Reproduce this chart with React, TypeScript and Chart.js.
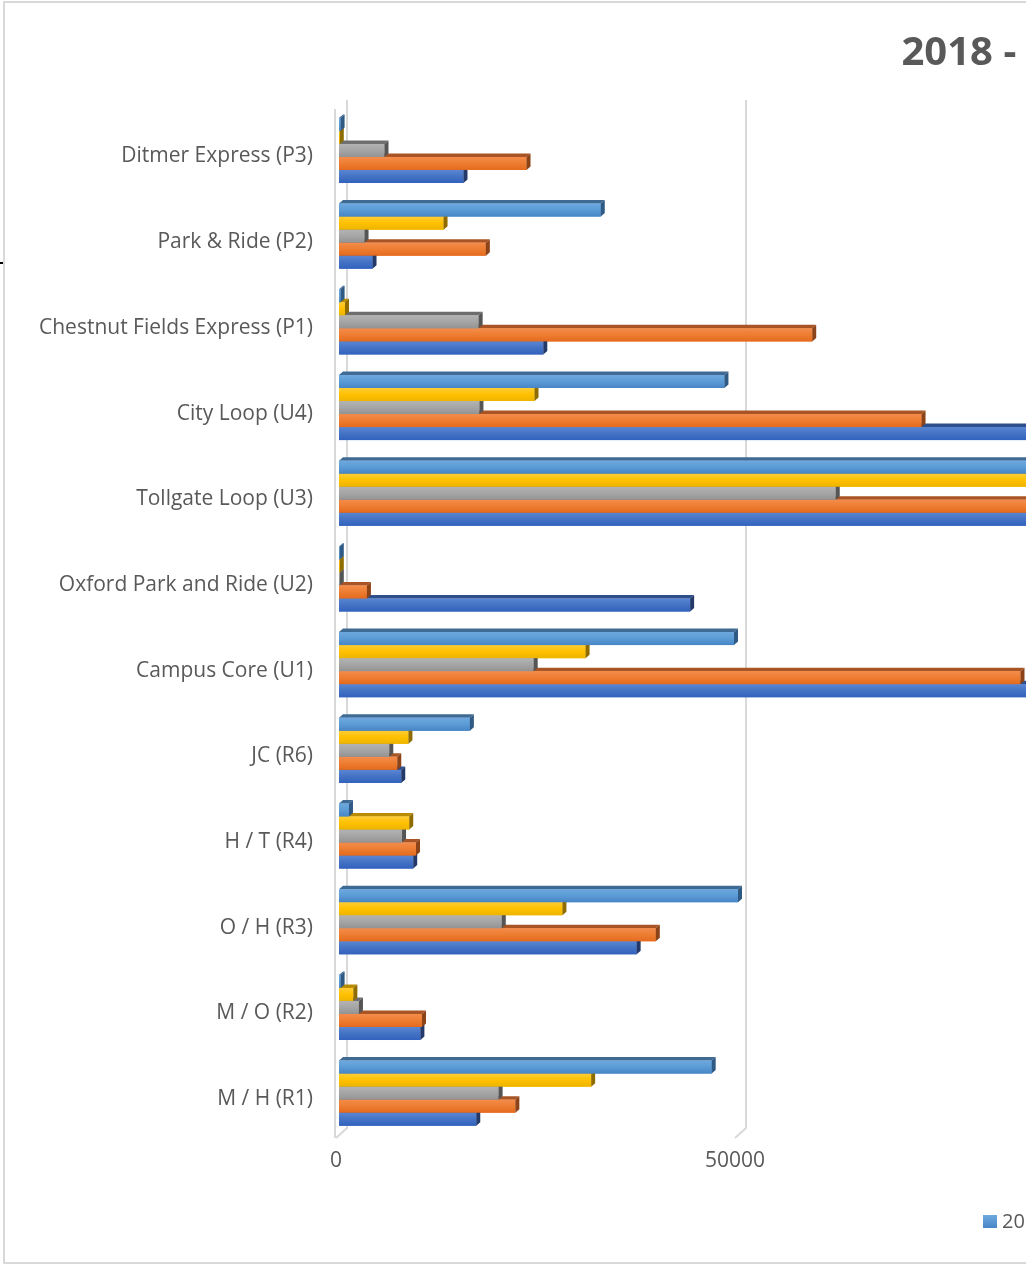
import React, { useEffect, useRef } from 'react';
import { Chart, registerables } from 'chart.js';

Chart.register(...registerables);

const categories = [
  'Ditmer Express (P3)',
  'Park & Ride (P2)',
  'Chestnut Fields Express (P1)',
  'City Loop (U4)',
  'Tollgate Loop (U3)',
  'Oxford Park and Ride (U2)',
  'Campus Core (U1)',
  'JC (R6)',
  'H / T (R4)',
  'O / H (R3)',
  'M / O (R2)',
  'M / H (R1)',
];

const seriesLabels = ['2018', '2019', '2020', '2021', '2022'];

// top bar of each group (light blue)
const seriesA = [200, 32800, 200, 48300, 118000, 100, 49500, 16400, 1250, 50000, 200, 46700];
// yellow
const seriesB = [100, 13100, 750, 24500, 112000, 100, 30900, 8700, 8800, 28000, 1800, 31600];
// gray
const seriesC = [5700, 3200, 17500, 17600, 62250, 100, 24400, 6300, 7900, 20400, 2500, 20000];
// orange
const seriesD = [23500, 18400, 59300, 73000, 135000, 3500, 85400, 7300, 9650, 39700, 10400, 22100];
// bottom bar of each group (dark blue)
const seriesE = [15600, 4200, 25600, 96000, 140000, 44000, 102000, 7800, 9300, 37300, 10200, 17200];

const xTicks = [0, 50000, 100000, 150000];

const titleText = '2018 - 2022 Ridership by Route';

const palettes = [
  { mid: '#5B9BD5', light: '#6EA9DF', dark: '#4785C6', topFace: '#3E6A94', cap: '#2F5A84' },
  { mid: '#FFC000', light: '#FFCD36', dark: '#EDB500', topFace: '#B88B00', cap: '#8F6C00' },
  { mid: '#A5A5A5', light: '#B3B3B3', dark: '#939393', topFace: '#6E6E6E', cap: '#555555' },
  { mid: '#ED7D31', light: '#F48C4C', dark: '#E46A1E', topFace: '#A85424', cap: '#8C4318' },
  { mid: '#4472C4', light: '#5A86D2', dark: '#3262BE', topFace: '#2F4F8C', cap: '#22396A' },
];

const DX = 4;
const DY = 3.5;

const wallPlugin = {
  id: 'wall3d',
  beforeDatasetsDraw(chart: any) {
    const { ctx, chartArea } = chart;
    const xs = chart.scales.x;
    ctx.save();
    ctx.strokeStyle = '#d9d9d9';
    ctx.lineWidth = 2;
    const backTop = chartArea.top - 7.6;
    const floorBack = chartArea.bottom - 8;
    const floorFront = chartArea.bottom + 2;
    xTicks.forEach((v) => {
      const px = xs.getPixelForValue(v);
      ctx.beginPath();
      ctx.moveTo(px + 8, backTop);
      ctx.lineTo(px + 8, floorBack);
      ctx.lineTo(px - 3, floorFront);
      ctx.stroke();
    });
    const p0 = xs.getPixelForValue(0);
    ctx.beginPath();
    ctx.moveTo(p0 - 4, chartArea.top + 1.4);
    ctx.lineTo(p0 - 4, floorFront);
    ctx.stroke();
    ctx.restore();
  },
};

const barPlugin = {
  id: 'bar3d',
  afterDatasetsDraw(chart: any) {
    const ctx = chart.ctx;
    const n = chart.data.datasets.length;
    ctx.save();
    for (let d = n - 1; d >= 0; d--) {
      const meta = chart.getDatasetMeta(d);
      const pal = palettes[d];
      meta.data.forEach((el: any) => {
        const { x, y, base, height } = el.getProps(['x', 'y', 'base', 'height'], true);
        const top = y - height / 2;
        const bot = y + height / 2;
        const left = Math.min(base, x);
        const right = Math.max(base, x);
        ctx.fillStyle = pal.topFace;
        ctx.beginPath();
        ctx.moveTo(left, top);
        ctx.lineTo(right, top);
        ctx.lineTo(right + DX, top - DY);
        ctx.lineTo(left + DX, top - DY);
        ctx.closePath();
        ctx.fill();
        const g = ctx.createLinearGradient(0, top, 0, bot);
        g.addColorStop(0, pal.light);
        g.addColorStop(0.5, pal.mid);
        g.addColorStop(1, pal.dark);
        ctx.fillStyle = g;
        ctx.fillRect(left, top, right - left, height);
        ctx.fillStyle = pal.cap;
        ctx.beginPath();
        ctx.moveTo(right, top);
        ctx.lineTo(right + DX, top - DY);
        ctx.lineTo(right + DX, bot - DY);
        ctx.lineTo(right, bot);
        ctx.closePath();
        ctx.fill();
      });
    }
    ctx.restore();
  },
};

const titleLegendPlugin = {
  id: 'titleLegend',
  afterDraw(chart: any) {
    const ctx = chart.ctx;
    ctx.save();
    ctx.fillStyle = '#595959';
    ctx.font = 'bold 40px "Open Sans"';
    ctx.textAlign = 'left';
    ctx.textBaseline = 'alphabetic';
    ctx.fillText(titleText, 896.5, 61.5);

    ctx.font = '20px "Open Sans"';
    ctx.textBaseline = 'middle';
    let lx = 978;
    const ly = 1212;
    chart.data.datasets.forEach((ds: any, i: number) => {
      const pal = palettes[i];
      const g = ctx.createLinearGradient(0, ly, 0, ly + 13);
      g.addColorStop(0, pal.light);
      g.addColorStop(1, pal.dark);
      ctx.fillStyle = g;
      ctx.fillRect(lx, ly, 14, 13);
      ctx.fillStyle = '#595959';
      ctx.fillText(ds.label, lx + 19, ly + 7);
      lx += 19 + ctx.measureText(ds.label).width + 22;
    });
    ctx.restore();
  },
};

export default function App() {
  const canvasRef = useRef<HTMLCanvasElement | null>(null);

  useEffect(() => {
    if (!canvasRef.current) return;
    const allSeries = [seriesA, seriesB, seriesC, seriesD, seriesE];
    const chart = new Chart(canvasRef.current, {
      type: 'bar',
      data: {
        labels: categories,
        datasets: allSeries.map((s, i) => ({
          label: seriesLabels[i],
          data: s,
          backgroundColor: palettes[i].mid,
          borderWidth: 0,
          categoryPercentage: 0.76,
          barPercentage: 1,
        })),
      },
      options: {
        indexAxis: 'y',
        animation: false,
        responsive: false,
        maintainAspectRatio: false,
        layout: { padding: { top: 104.6, bottom: 66, left: 0, right: 159 } },
        plugins: {
          legend: { display: false },
          title: { display: false },
          tooltip: { enabled: false },
        },
        scales: {
          y: {
            type: 'category',
            grid: { display: false, drawTicks: false },
            border: { display: false },
            ticks: {
              font: { family: 'Open Sans', size: 21 },
              color: '#595959',
              padding: 26,
              labelOffset: 6,
            },
            afterFit: (s: any) => {
              s.width = 334;
            },
          },
          x: {
            type: 'linear',
            min: 0,
            max: 150000,
            afterBuildTicks: (s: any) => {
              s.ticks = xTicks.map((v) => ({ value: v }));
            },
            grid: { display: false, drawTicks: false },
            border: { display: false },
            ticks: {
              font: { family: 'Open Sans', size: 21 },
              color: '#595959',
              padding: 12,
              labelOffset: -3,
              maxRotation: 0,
              callback: (v: any) => String(v),
            },
            afterFit: (s: any) => {
              s.height = 60;
            },
          },
        },
      },
      plugins: [wallPlugin, barPlugin, titleLegendPlugin],
    });
    return () => chart.destroy();
  }, []);

  return (
    <div
      style={{
        position: 'absolute',
        left: 0,
        top: 0,
        width: 1026,
        height: 1264,
        overflow: 'hidden',
        background: '#ffffff',
      }}
    >
      <div
        style={{
          position: 'absolute',
          left: 3,
          top: 1,
          width: 1694,
          height: 1263,
          border: '2px solid #d9d9d9',
          boxSizing: 'border-box',
          background: '#ffffff',
        }}
      >
        <canvas ref={canvasRef} width={1690} height={1259} style={{ display: 'block', width: 1690, height: 1259 }} />
      </div>
      <div style={{ position: 'absolute', left: 0, top: 262, width: 3, height: 2, background: '#000' }} />
    </div>
  );
}
